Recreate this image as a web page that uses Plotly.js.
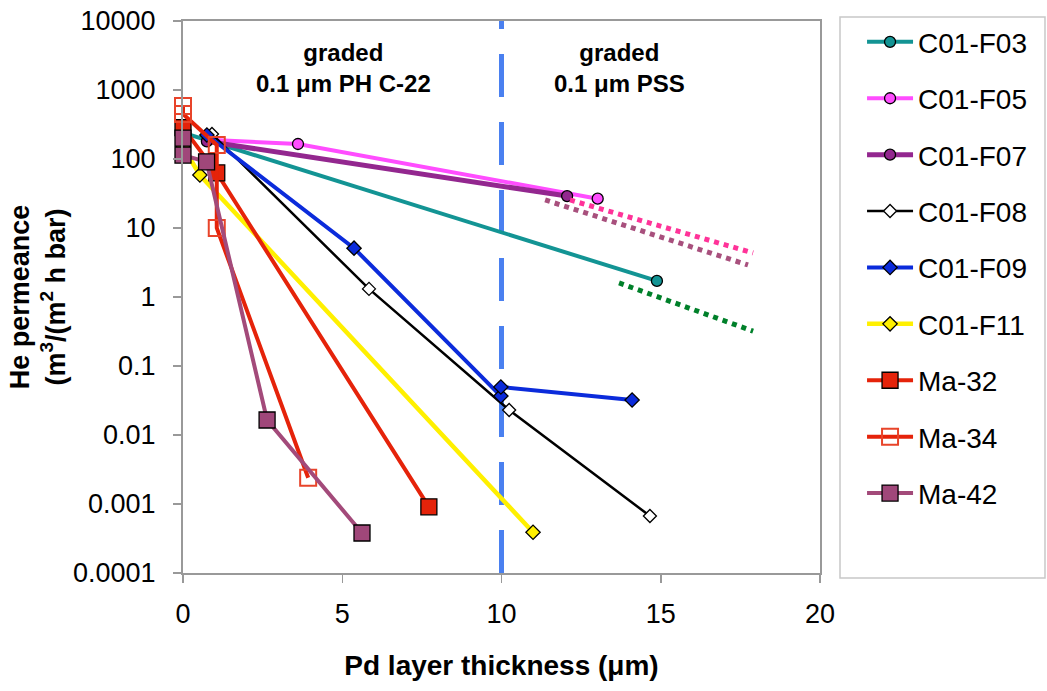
<!DOCTYPE html>
<html>
<head>
<meta charset="utf-8">
<script src="https://cdn.plot.ly/plotly-3.0.1.min.js"></script>
<style>html,body{margin:0;padding:0;background:#fff;}#chart{width:1047px;height:691px;}</style>
</head>
<body>
<div id="chart"></div>
<script>
// ---- data (Pd layer thickness in µm, He permeance in m3/(m2 h bar)) ----
const seriesNames = ["C01-F03","C01-F05","C01-F07","C01-F08","C01-F09","C01-F11","Ma-32","Ma-34","Ma-42"];

const f03_x = [0, 14.88];
const f03_y = [240, 1.71];

const f05_x = [0.8, 3.61, 13.02];
const f05_y = [190, 165, 26.6];

const f07_x = [0.75, 12.06];
const f07_y = [180, 29];

const f08_x = [0.91, 5.84, 10.24, 14.66];
const f08_y = [230, 1.31, 0.023, 0.00067];

const f09_x = [0.75, 5.37, 9.98, 9.98, 14.1];
const f09_y = [223, 5.1, 0.0367, 0.0497, 0.0321];

const f11_x = [0, 0.53, 10.99];
const f11_y = [150, 58.6, 0.00039];

const ma32_x = [0, 1.06, 7.72];
const ma32_y = [285, 63, 0.00091];

const ma34_x = [0, 0, 1.06, 1.06, 3.93];
const ma34_y = [586, 449, 160, 10, 0.0024];

const ma42_x = [0, 0, 0.74, 2.64, 5.62];
const ma42_y = [201, 114, 91, 0.0165, 0.00038];

// dotted extrapolation lines
const trendPink_x = [12.15, 17.9];
const trendPink_y = [25.5, 4.35];
const trendMauve_x = [11.37, 17.74];
const trendMauve_y = [25.5, 2.91];
const trendGreen_x = [13.69, 17.9];
const trendGreen_y = [1.6, 0.32];

// axis ticks
const yTickVals = [0.0001, 0.001, 0.01, 0.1, 1, 10, 100, 1000, 10000];
const yTickText = ["0.0001", "0.001", "0.01", "0.1", "1", "10", "100", "1000", "10000"];
const xTickVals = [0, 5, 10, 15, 20];
const dividerX = 10;

// ---- styles ----
const FONT = "Arial, 'Liberation Sans', sans-serif";
function trace(name, x, y, lineColor, lineWidth, marker, idx) {
  return {
    type: "scatter", mode: "lines+markers", name: name, x: x, y: y,
    line: {color: lineColor, width: lineWidth},
    marker: marker,
    legendgroup: "g" + idx,
    cliponaxis: false
  };
}
const blk = {color: "#000", width: 1.3};
const traces = [
  trace(seriesNames[0], f03_x, f03_y, "#139494", 4, {symbol: "circle", size: 11, color: "#139494", line: blk}, 0),
  trace(seriesNames[1], f05_x, f05_y, "#ff4dff", 4, {symbol: "circle", size: 11, color: "#ff4dff", line: blk}, 1),
  trace(seriesNames[2], f07_x, f07_y, "#93278f", 5, {symbol: "circle", size: 11, color: "#93278f", line: blk}, 2),
  trace(seriesNames[3], f08_x, f08_y, "#000000", 2.5, {symbol: "diamond", size: 10, color: "#ffffff", line: blk}, 3),
  trace(seriesNames[4], f09_x, f09_y, "#0b2bdb", 4, {symbol: "diamond", size: 11, color: "#0b2bdb", line: blk}, 4),
  trace(seriesNames[5], f11_x, f11_y, "#fff000", 4.5, {symbol: "diamond", size: 11, color: "#fff000", line: blk}, 5),
  trace(seriesNames[6], ma32_x, ma32_y, "#e5230a", 4, {symbol: "square", size: 16, color: "#e5230a", line: blk}, 6),
  trace(seriesNames[7], ma34_x, ma34_y, "#e5230a", 4, {symbol: "square-open", size: 16, color: "#e8442a", line: {color: "#e8442a", width: 2}}, 7),
  trace(seriesNames[8], ma42_x, ma42_y, "#a34a7a", 4, {symbol: "square", size: 16, color: "#a0477a", line: blk}, 8),
  {type: "scatter", mode: "lines", x: trendPink_x, y: trendPink_y, showlegend: false, hoverinfo: "skip",
   line: {color: "#ff3399", width: 5, dash: "5px,5px"}},
  {type: "scatter", mode: "lines", x: trendMauve_x, y: trendMauve_y, showlegend: false, hoverinfo: "skip",
   line: {color: "#a8507d", width: 5, dash: "5px,5px"}},
  {type: "scatter", mode: "lines", x: trendGreen_x, y: trendGreen_y, showlegend: false, hoverinfo: "skip",
   line: {color: "#00802a", width: 5, dash: "5px,5px"}}
];

const layout = {
  width: 1047, height: 691,
  margin: {l: 183, r: 227, t: 21, b: 118},
  paper_bgcolor: "#ffffff", plot_bgcolor: "#ffffff",
  font: {family: FONT, color: "#000"},
  showlegend: true,
  xaxis: {
    range: [0, 20], tickvals: xTickVals, ticks: "outside", ticklen: 8, tickwidth: 1.5, tickcolor: "#999",
    showgrid: false, zeroline: false, showline: true, linecolor: "#999", linewidth: 2, mirror: true,
    tickfont: {size: 27, family: FONT}, ticklabelstandoff: 8,
    title: {text: "<b>Pd layer thickness (μm)</b>", font: {size: 28, family: FONT}, standoff: 27},
    automargin: false
  },
  yaxis: {
    type: "log", range: [-4, 4], tickvals: yTickVals, ticktext: yTickText,
    ticks: "outside", ticklen: 8, tickwidth: 1.5, tickcolor: "#999",
    showgrid: false, zeroline: false, showline: true, linecolor: "#999", linewidth: 2, mirror: true,
    tickfont: {size: 27, family: FONT}, ticklabelstandoff: 12,
    title: {text: "<b>He permeance<br>(m<sup>3</sup>/(m<sup>2</sup> h bar)</b>", font: {size: 27, family: FONT}, standoff: 0},
    automargin: false
  },
  legend: {
    x: 1.066, y: 1.007, xanchor: "left", yanchor: "top",
    bordercolor: "rgba(0,0,0,0)", borderwidth: 0, bgcolor: "rgba(0,0,0,0)",
    font: {size: 28, family: FONT}, traceorder: "grouped", tracegroupgap: 17,
    itemwidth: 46, maxheight: 680
  },
  shapes: [
    {type: "line", xref: "x", yref: "paper", x0: dividerX, x1: dividerX, y0: 0, y1: 1,
     line: {color: "#4a80f0", width: 5, dash: "43px,25px"}, layer: "below"},
    // legend frame
    {type: "rect", xref: "paper", yref: "paper", x0: 1.0314, x1: 1.3532, y0: -0.009, y1: 1.0072,
     line: {color: "#c8c8c8", width: 1.5}, fillcolor: "rgba(0,0,0,0)", layer: "above"}
  ],
  annotations: [
    {xref: "x", yref: "paper", x: 5.05, y: 0.971, yanchor: "top", showarrow: false, align: "center",
     text: "<b>graded<br>0.1 μm PH C-22</b>", font: {size: 24, family: FONT}},
    {xref: "x", yref: "paper", x: 13.72, y: 0.971, yanchor: "top", showarrow: false, align: "center",
     text: "<b>graded<br>0.1 μm PSS</b>", font: {size: 24, family: FONT}}
  ]
};

Plotly.newPlot("chart", traces, layout, {staticPlot: true, displayModeBar: false});
</script>
</body>
</html>
